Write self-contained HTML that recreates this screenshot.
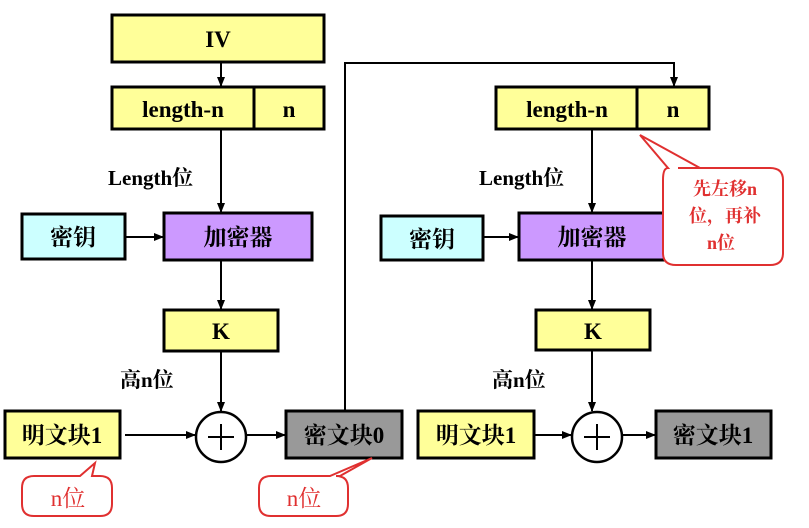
<!DOCTYPE html>
<html><head><meta charset="utf-8"><style>body{margin:0;background:#fff}text{font-family:"Liberation Serif","Noto Serif CJK SC",serif;font-weight:bold}</style></head><body>
<svg width="809" height="523" viewBox="0 0 809 523" xmlns="http://www.w3.org/2000/svg">
<defs><marker id="a" markerWidth="10" markerHeight="10" refX="9" refY="5" orient="auto" markerUnits="userSpaceOnUse"><path d="M0,1 L10,5 L0,9 z" fill="#000"/></marker></defs>
<g stroke="#000" stroke-width="3">
<rect x="112" y="15" width="212" height="47" fill="#ffff99"/>
<rect x="112" y="87" width="212" height="42" fill="#ffff99"/>
<line x1="254" y1="87" x2="254" y2="129"/>
<rect x="22" y="214" width="103" height="45" fill="#ccffff"/>
<rect x="164" y="213" width="148" height="47" fill="#cc99ff"/>
<rect x="164" y="310" width="114" height="41" fill="#ffff99"/>
<rect x="5" y="411" width="115" height="47" fill="#ffff99"/>
<rect x="286" y="411" width="116" height="47" fill="#999999"/>
<rect x="496" y="87" width="213" height="42" fill="#ffff99"/>
<line x1="637" y1="87" x2="637" y2="129"/>
<rect x="381" y="216" width="102" height="44" fill="#ccffff"/>
<rect x="519" y="213" width="146" height="47" fill="#cc99ff"/>
<rect x="536" y="310" width="114" height="40" fill="#ffff99"/>
<rect x="418" y="411" width="116" height="47" fill="#ffff99"/>
<rect x="656" y="411" width="115" height="47" fill="#999999"/>
</g>
<g stroke="#000" stroke-width="2" fill="none">
<line x1="221" y1="62" x2="221" y2="86" marker-end="url(#a)"/>
<line x1="221" y1="129" x2="221" y2="212" marker-end="url(#a)"/>
<line x1="125" y1="237" x2="163" y2="237" marker-end="url(#a)"/>
<line x1="221" y1="260" x2="221" y2="309" marker-end="url(#a)"/>
<line x1="221" y1="351" x2="221" y2="411" marker-end="url(#a)"/>
<line x1="125" y1="435" x2="195" y2="435" marker-end="url(#a)"/>
<line x1="247" y1="435" x2="285" y2="435" marker-end="url(#a)"/>
<polyline points="345,411 345,63 674,63 674,86" marker-end="url(#a)"/>
<line x1="592" y1="129" x2="592" y2="212" marker-end="url(#a)"/>
<line x1="483" y1="237" x2="518" y2="237" marker-end="url(#a)"/>
<line x1="592" y1="260" x2="592" y2="309" marker-end="url(#a)"/>
<line x1="592" y1="350" x2="592" y2="411" marker-end="url(#a)"/>
<line x1="534" y1="435" x2="571" y2="435" marker-end="url(#a)"/>
<line x1="623" y1="435" x2="655" y2="435" marker-end="url(#a)"/>
</g>
<g stroke="#000" stroke-width="2.5" fill="#fff">
<circle cx="221" cy="437" r="25"/><circle cx="597" cy="437" r="25"/>
</g>
<g stroke="#000" stroke-width="2"><line x1="208" y1="437" x2="234" y2="437"/><line x1="221" y1="424" x2="221" y2="450"/><line x1="584" y1="437" x2="610" y2="437"/><line x1="597" y1="424" x2="597" y2="450"/></g>
<g stroke="#e03030" stroke-width="2" fill="#fff">
<path d="M678,168 L700,168 L640,135 L668,168 Q663,168 663,180 L663,253 Q663,265 676,265 L770,265 Q783,265 783,253 L783,180 Q783,168 770,168 Z"/>
<path d="M34,476 L80,476 L95,463 L92,476 L100,476 Q112,476 112,488 L112,504 Q112,516 100,516 L34,516 Q22,516 22,504 L22,488 Q22,476 34,476 Z"/>
<path d="M271,476 L330,476 L372,458 L340,476 L336,476 Q348,476 348,488 L348,504 Q348,516 336,516 L271,516 Q259,516 259,504 L259,488 Q259,476 271,476 Z"/>
</g>
<g font-size="23" text-anchor="middle" fill="#000">
<text x="218" y="47">IV</text>
<text x="183" y="117">length-n</text><text x="289" y="117">n</text>
<text x="73" y="245">密钥</text><text x="238" y="245">加密器</text>
<text x="221" y="339">K</text>
<text x="62" y="443">明文块1</text><text x="344" y="443">密文块0</text>
<text x="567" y="117">length-n</text><text x="673" y="117">n</text>
<text x="432" y="247">密钥</text><text x="592" y="245">加密器</text>
<text x="593" y="339">K</text>
<text x="476" y="443">明文块1</text><text x="713" y="443">密文块1</text>
</g>
<g font-size="21" fill="#000">
<text x="108" y="185">Length位</text><text x="120" y="387">高n位</text>
<text x="479" y="185">Length位</text><text x="492" y="387">高n位</text>
</g>
<g font-size="18" fill="#e03030" text-anchor="middle">
<text x="725" y="195">先左移n</text><text x="725" y="222">位，再补</text><text x="721" y="249">n位</text>
</g>
<g font-size="23" fill="#e03030" text-anchor="middle">
<text x="68" y="506" style="font-weight:normal">n位</text><text x="304" y="506" style="font-weight:normal">n位</text>
</g>
</svg>
</body></html>
